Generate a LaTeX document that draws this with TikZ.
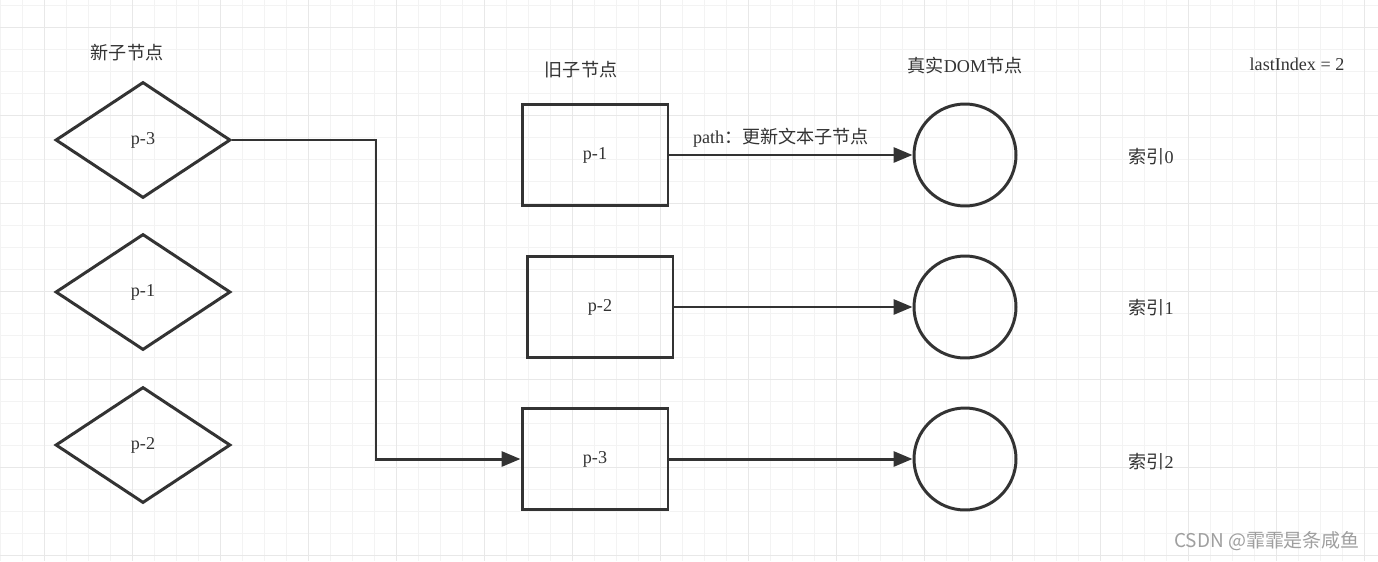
\documentclass[tikz,border=0pt]{standalone}
\usepackage{fontspec}
\setmainfont{Liberation Serif}
\newfontfamily\cjk{Noto Sans CJK SC}
\usetikzlibrary{shapes.geometric,arrows.meta}
\newcommand{\zh}[1]{{\cjk #1}}
\definecolor{ink}{HTML}{333333}
\definecolor{gridminor}{HTML}{F3F3F3}
\definecolor{gridmajor}{HTML}{E8E8E8}
\tikzset{
  newnode/.style={draw=ink, diamond, line width=1.7pt, minimum width=3.5cm, minimum height=2.32cm, inner sep=0pt, text=ink},
  oldnode/.style={draw=ink, rectangle, line width=1.7pt, minimum width=2.92cm, minimum height=2.02cm, text=ink},
  domnode/.style={draw=ink, circle, line width=1.7pt, minimum size=2.04cm, inner sep=0pt},
  label/.style={text=ink},
  link/.style={draw=ink, line width=1.7pt, -{Triangle[length=0.38cm, width=0.3cm]}}
}
\begin{document}
\begin{tikzpicture}[x=0.02cm, y=-0.02cm, font=\fontsize{10.3pt}{12pt}\selectfont]
        \useasboundingbox (0,0) rectangle (1378,561);
        % grid
        \fill[white] (0,0) rectangle (1378,561);
        \foreach \x in {0,22,...,1364} \draw[gridminor, line width=0.55pt] (\x,0) -- (\x,561);
        \foreach \y in {5,27,...,555} \draw[gridminor, line width=0.55pt] (0,\y) -- (1378,\y);
        \foreach \x in {44,132,...,1364} \draw[gridmajor, line width=0.55pt] (\x,0) -- (\x,561);
        \foreach \y in {27,115,...,555} \draw[gridmajor, line width=0.55pt] (0,\y) -- (1378,\y);
        % new children
        \node[label] (newtitle) at (127,53) {\zh{新子节点}};
        \node[newnode] (n3) at (143,140) {p-3};
        \node[newnode] (n1) at (143,292) {p-1};
        \node[newnode] (n2) at (143,445) {p-2};
        % old children
        \node[label] (oldtitle) at (581,70) {\zh{旧子节点}};
        \node[oldnode] (o1) at (595,155) {p-1};
        \node[oldnode] (o2) at (600,307) {p-2};
        \node[oldnode] (o3) at (595,459) {p-3};
        % real dom
        \node[label] (domtitle) at (965,66) {\zh{真实}DOM\zh{节点}};
        \node[domnode] (d0) at (965,155) {};
        \node[domnode] (d1) at (965,307) {};
        \node[domnode] (d2) at (965,459) {};
        % index
        \node[label] (lastidx) at (1297,64) {lastIndex = 2};
        \node[label] (idx0) at (1151,157) {\zh{索引}0};
        \node[label] (idx1) at (1151,308) {\zh{索引}1};
        \node[label] (idx2) at (1151,462) {\zh{索引}2};
        % links
        \coordinate (bend) at (376,140);
        \draw[link] (n3.east) -- (bend) |- (o3.west);
        \draw[link] (o1.east) -- (d0.west);
        \draw[link] (o2.east) -- (d1.west);
        \draw[link] (o3.east) -- (d2.west);
        \node[label] (pathtext) at (781,138) {path\zh{：更新文本子节点}};
        % watermark
        \node[text=gray!75, font=\cjk\fontsize{10.8pt}{13pt}\selectfont] (mark) at (1267,541) {CSDN @霏霏是条咸鱼};
\end{tikzpicture}
\end{document}
